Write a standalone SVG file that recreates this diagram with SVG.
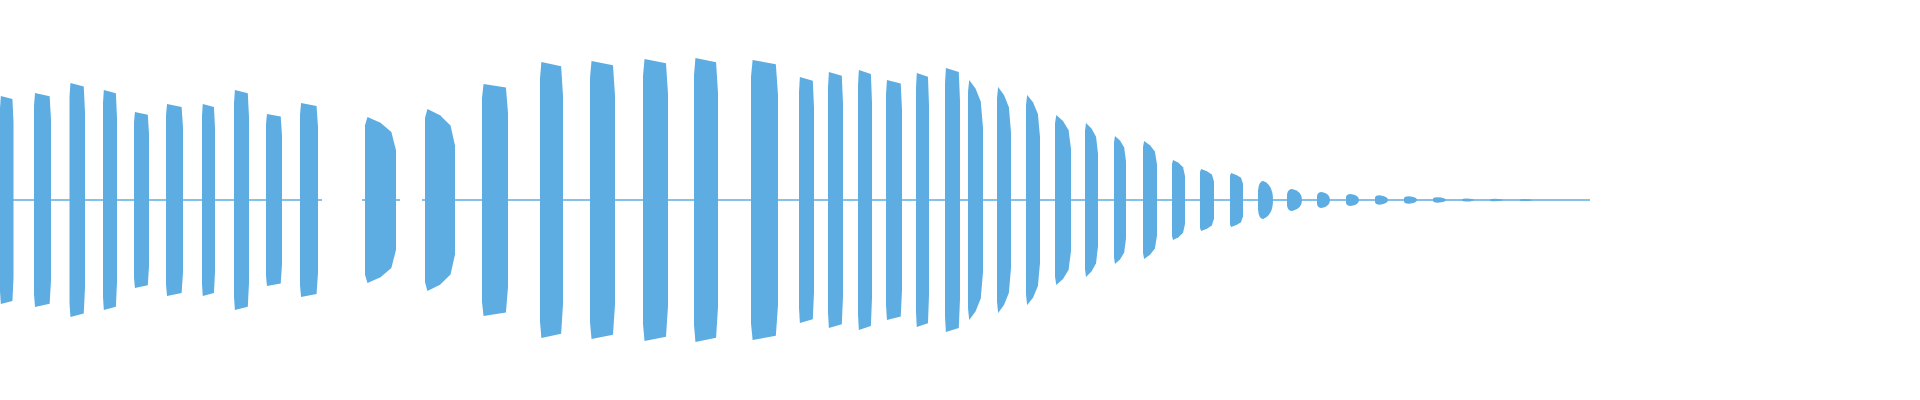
<svg xmlns="http://www.w3.org/2000/svg" width="1920" height="400" viewBox="0 0 1920 400">
<defs>
<path id="b" d="M0,-0.88 L0.06,-1 L0.92,-0.97 L1,-0.75 V0.75 L0.92,0.97 L0.06,1 L0,0.88Z"/>
<path id="d" d="M0,-0.9 L0.08,-1 L0.5,-0.93 L0.85,-0.82 L1,-0.6 V0.6 L0.85,0.82 L0.5,0.93 L0.08,1 L0,0.9Z"/>
<path id="r" d="M0,-0.5 Q0.05,-1 0.35,-1 Q1,-0.8 1,0 Q1,0.8 0.35,1 Q0.05,1 0,0.5Z"/>
</defs>
<style>use{fill:#5dade2}line{stroke:#5dade2;stroke-width:1.5}</style>
<g id="midline">
<line x1="0" y1="200" x2="322" y2="200"/><line x1="362" y1="200" x2="400" y2="200"/><line x1="422" y1="200" x2="1590" y2="200"/>
</g>
<g id="wave">
<use href="#b" transform="translate(0,200) scale(13.5,104)"/>
<use href="#b" transform="translate(34,200) scale(17,107)"/>
<use href="#b" transform="translate(69.5,200) scale(15.5,117)"/>
<use href="#b" transform="translate(103,200) scale(14,110)"/>
<use href="#b" transform="translate(134,200) scale(15,88)"/>
<use href="#b" transform="translate(166,200) scale(17,96)"/>
<use href="#b" transform="translate(202,200) scale(13,96)"/>
<use href="#b" transform="translate(234,200) scale(15,110)"/>
<use href="#b" transform="translate(266,200) scale(16,86)"/>
<use href="#b" transform="translate(300,200) scale(18,97)"/>
<use href="#d" transform="translate(365,200) scale(31,83)"/>
<use href="#d" transform="translate(425,200) scale(30,91)"/>
<use href="#b" transform="translate(482,200) scale(26,116)"/>
<use href="#b" transform="translate(540,200) scale(23,138)"/>
<use href="#b" transform="translate(590,200) scale(25,139)"/>
<use href="#b" transform="translate(643,200) scale(25,141)"/>
<use href="#b" transform="translate(694,200) scale(24,142)"/>
<use href="#b" transform="translate(751,200) scale(27,140)"/>
<use href="#b" transform="translate(799,200) scale(15,123)"/>
<use href="#b" transform="translate(828,200) scale(15,128)"/>
<use href="#b" transform="translate(858,200) scale(14,130)"/>
<use href="#b" transform="translate(886,200) scale(16,120)"/>
<use href="#b" transform="translate(916,200) scale(13,127)"/>
<use href="#b" transform="translate(945,200) scale(15,132)"/>
<use href="#d" transform="translate(968,200) scale(15,120)"/>
<use href="#d" transform="translate(997,200) scale(14,113)"/>
<use href="#d" transform="translate(1026,200) scale(14,105)"/>
<use href="#d" transform="translate(1055,200) scale(16,85)"/>
<use href="#d" transform="translate(1085,200) scale(13,77)"/>
<use href="#d" transform="translate(1114,200) scale(12,64)"/>
<use href="#d" transform="translate(1143,200) scale(14,59)"/>
<use href="#d" transform="translate(1172,200) scale(13,40)"/>
<use href="#d" transform="translate(1200,200) scale(14,31)"/>
<use href="#d" transform="translate(1230,200) scale(13,27)"/>
<use href="#r" transform="translate(1258,200) scale(15,19)"/>
<use href="#r" transform="translate(1287,200) scale(15,11)"/>
<use href="#r" transform="translate(1317,200) scale(13,8)"/>
<use href="#r" transform="translate(1346,200) scale(13,6)"/>
<use href="#r" transform="translate(1375,200) scale(13,4.7)"/>
<use href="#r" transform="translate(1404,200) scale(13,3.7)"/>
<use href="#r" transform="translate(1433,200) scale(13,2.7)"/>
<use href="#r" transform="translate(1462,200) scale(12,1.6)"/>
<use href="#r" transform="translate(1490,200) scale(13,1.3)"/>
<use href="#r" transform="translate(1520,200) scale(12,1.1)"/>
</g>
</svg>
